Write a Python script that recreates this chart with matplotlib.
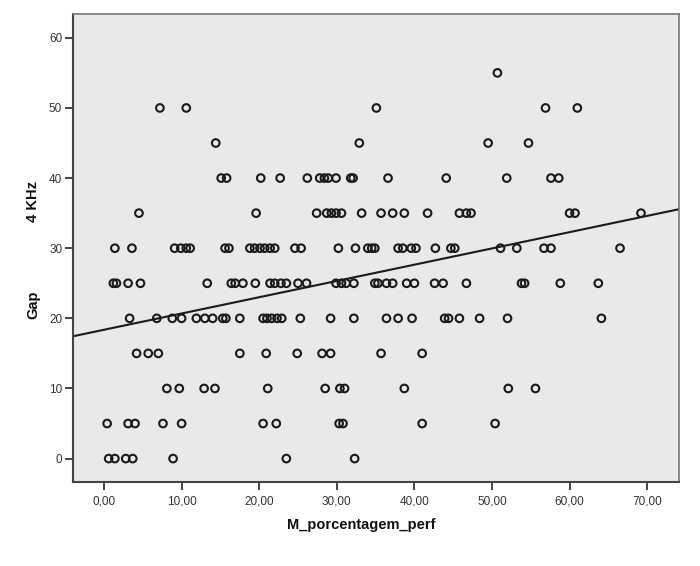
import numpy as np
import matplotlib
matplotlib.use("Agg")
import matplotlib.pyplot as plt

plt.rcParams['font.family'] = ['Liberation Sans', 'DejaVu Sans']

# ==========================================
# DATA (one list per Gap level)
# ==========================================
gap_levels = [0, 5, 10, 15, 20, 25, 30, 35, 40, 45, 50, 55]

perc_gap0 = [0.6, 1.4, 2.8, 3.7, 8.9, 23.5, 32.3]
perc_gap5 = [0.4, 3.1, 4.0, 7.6, 10.0, 20.5, 22.2, 30.3, 30.8, 41.0, 50.4]
perc_gap10 = [8.1, 9.7, 12.9, 14.3, 21.1, 28.5, 30.4, 31.0, 38.7, 52.1, 55.6]
perc_gap15 = [4.2, 5.7, 7.0, 17.5, 20.9, 24.9, 28.1, 29.2, 35.7, 41.0]
perc_gap20 = [3.3, 6.8, 8.8, 10.0, 11.9, 13.0, 14.0, 15.3, 15.7, 17.5,
              20.5, 21.0, 21.6, 22.3, 22.9, 25.3, 29.2, 32.2, 36.4, 37.9,
              39.7, 43.9, 44.4, 45.8, 48.4, 52.0, 64.1]
perc_gap25 = [1.2, 1.6, 3.1, 4.7, 13.3, 16.4, 16.9, 17.9, 19.5, 21.4,
              22.0, 22.8, 23.5, 25.0, 26.1, 29.9, 30.6, 31.2, 32.2, 34.9,
              35.3, 36.4, 37.2, 39.0, 40.0, 42.6, 43.7, 46.7, 53.8, 54.2,
              58.8, 63.7]
perc_gap30 = [1.4, 3.6, 9.1, 9.9, 10.6, 11.1, 15.6, 16.1, 18.8, 19.4,
              20.1, 20.7, 21.4, 22.0, 24.6, 25.4, 30.2, 32.4, 34.0, 34.5,
              34.9, 37.9, 38.5, 39.6, 40.2, 42.7, 44.7, 45.2, 51.1, 53.2,
              56.7, 57.6, 66.5]
perc_gap35 = [4.5, 19.6, 27.4, 28.7, 29.3, 29.9, 30.6, 33.2, 35.7, 37.2,
              38.7, 41.7, 45.8, 46.7, 47.3, 60.0, 60.7, 69.2]
perc_gap40 = [15.1, 15.8, 20.2, 22.7, 26.2, 27.8, 28.4, 28.9, 29.9, 31.8,
              32.1, 36.6, 44.1, 51.9, 57.6, 58.6]
perc_gap45 = [14.4, 32.9, 49.5, 54.7]
perc_gap50 = [7.2, 10.6, 35.1, 56.9, 61.0]
perc_gap55 = [50.7]

# linear fit line as drawn in the reference
fit_intercept = 18.37
fit_slope = 0.232

x_ticks = [0, 10, 20, 30, 40, 50, 60, 70]
y_ticks = [0, 10, 20, 30, 40, 50, 60]

perc_lists = [perc_gap0, perc_gap5, perc_gap10, perc_gap15, perc_gap20, perc_gap25,
              perc_gap30, perc_gap35, perc_gap40, perc_gap45, perc_gap50, perc_gap55]
x_all = np.concatenate([np.array(p, dtype=float) for p in perc_lists])
y_all = np.concatenate([np.full(len(p), g, dtype=float) for p, g in zip(perc_lists, gap_levels)])

# ==========================================
# PLOT
# ==========================================
fig = plt.figure(figsize=(7.0, 5.66), dpi=100)
ax = fig.add_axes([0.1047, 0.1489, 0.9700 - 0.1047, 0.9753 - 0.1489])
ax.set_facecolor('#e9e9e9')

ax.scatter(x_all, y_all, s=30, facecolors='none', edgecolors='#1a1a1a',
           linewidths=1.5, zorder=3)
ax.axline((0, fit_intercept), slope=fit_slope, color='#1a1a1a', linewidth=1.5, zorder=2)

ax.set_xlim(-3.96, 74.1)
ax.set_ylim(-3.3, 63.4)
ax.set_xticks(x_ticks)
ax.set_xticklabels([f"{t:.2f}".replace('.', ',') for t in x_ticks])
ax.set_yticks(y_ticks)
ax.set_yticklabels([str(t) for t in y_ticks])
ax.tick_params(axis='both', direction='out', length=6, width=1.4, color='#444444',
               labelsize=8.5, labelcolor='#333333')
ax.tick_params(axis='y', pad=2)
ax.tick_params(axis='x', pad=4)

for side in ['left', 'bottom']:
    ax.spines[side].set_color('#444444')
    ax.spines[side].set_linewidth(1.5)
for side in ['top', 'right']:
    ax.spines[side].set_color('#777777')
    ax.spines[side].set_linewidth(1.2)

fig.text(361 / 700, 1 - 525 / 566, 'M_porcentagem_perf', ha='center', va='center',
         fontsize=10.5, fontweight='bold', color='#111111')
fig.text(33 / 700, 1 - 202 / 566, '4 KHz', ha='center', va='center', rotation=90,
         fontsize=10.5, fontweight='bold', color='#111111')
fig.text(33 / 700, 1 - 305 / 566, 'Gap', ha='center', va='center', rotation=90,
         fontsize=10.5, fontweight='bold', color='#111111')

plt.savefig('out.png', dpi=100, facecolor='white')
plt.close()
